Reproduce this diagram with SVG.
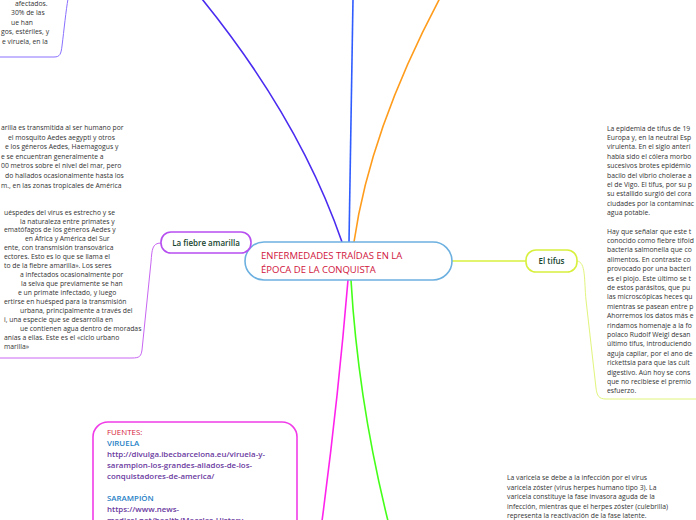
<svg xmlns="http://www.w3.org/2000/svg" width="696" height="520" viewBox="0 0 696 520">
<style>
.t{font-family:"Open Sans","Noto Sans",sans-serif;font-size:6.8px;fill:#333}
.lbl{font-family:"Open Sans","Noto Sans",sans-serif;font-size:8px;font-weight:600;fill:#17452f;text-anchor:middle}
.ttl{font-family:"Open Sans","Noto Sans",sans-serif;font-size:9.5px;fill:#d0143c}
.src{font-family:"Open Sans","Noto Sans",sans-serif;font-size:7.9px}
.c{fill:none;stroke-width:1.6}
</style>
<rect width="696" height="520" fill="#ffffff"/>
<g id="connectors">
  <path class="c" d="M342,242 Q300,120 202,-1" stroke="#4a2cf0"/>
  <path class="c" d="M349,242 Q351,120 353,-1" stroke="#2f5cff"/>
  <path class="c" d="M354,242 Q370,130 440,-2" stroke="#ff9c1c"/>
  <path class="c" d="M348,280 Q338,400 322,521" stroke="#ff22ec"/>
  <path class="c" d="M351,280 Q358,400 388,521" stroke="#44ff18"/>
  <path class="c" d="M452,261 L526,261" stroke="#d8f03c"/>
  <path fill="none" stroke="#e2f47c" stroke-width="1" d="M577,261 C586,262 584,280 586,300 L596,388 C597,396 599,399 606,399 L696,399"/>
  <path fill="none" stroke="#c866f2" stroke-width="1" d="M161,243 C152,243 152,250 151,262 L142,350 C141,356 140,358 132,358 L0,358"/>
  <path fill="none" stroke="#8a70ff" stroke-width="1" d="M0,57 L54,57 C60,57 61,54 62,46 C64,30 66,10 68,-1"/>
</g>
<g id="center">
  <rect x="245" y="242" width="207" height="38" rx="19" fill="#ffffff" stroke="#6cb0e0" stroke-width="1.6"/>
  <text class="ttl" x="261" y="258.5">ENFERMEDADES TRAÍDAS EN LA</text>
  <text class="ttl" x="261" y="272.5">ÉPOCA DE LA CONQUISTA</text>
</g>
<g id="fiebre">
  <rect x="161" y="232" width="90" height="21" rx="10" fill="#ffffff" stroke="#b64ef0" stroke-width="1.6"/>
  <text class="lbl" x="206" y="246">La fiebre amarilla</text>
</g>
<g id="tifus">
  <rect x="526" y="250" width="51" height="22" rx="10" fill="#ffffff" stroke="#d8f03c" stroke-width="1.6"/>
  <text class="lbl" x="551.5" y="264">El tifus</text>
</g>
<g id="viruela-text">
  <text class="t" x="15" y="5.5">afectados.</text>
  <text class="t" x="11" y="15">30% de las</text>
  <text class="t" x="11" y="24.5">ue han</text>
  <text class="t" x="1" y="34">gos, estériles, y</text>
  <text class="t" x="2" y="43.5">e viruela, en la</text>
</g>
<g id="fiebre-text">
  <text class="t" x="1" y="130">arilla es transmitida al ser humano por</text>
  <text class="t" x="8" y="139.6">el mosquito Aedes aegypti y otros</text>
  <text class="t" x="5" y="149.2">e los géneros Aedes, Haemagogus y</text>
  <text class="t" x="1" y="158.8">e se encuentran generalmente a</text>
  <text class="t" x="1" y="168.4">00 metros sobre el nivel del mar, pero</text>
  <text class="t" x="5" y="178">do hallados ocasionalmente hasta los</text>
  <text class="t" x="1" y="187.6">m., en las zonas tropicales de América</text>
  <text class="t" x="4" y="214.5">uéspedes del virus es estrecho y se</text>
  <text class="t" x="20" y="223.5">la naturaleza entre primates y</text>
  <text class="t" x="4" y="232.4">ematófagos de los géneros Aedes y</text>
  <text class="t" x="25" y="241.4">en África y América del Sur</text>
  <text class="t" x="4" y="250.3">ente, con transmisión transovárica</text>
  <text class="t" x="4" y="259.3">ectores. Esto es lo que se llama el</text>
  <text class="t" x="4" y="268.2">to de la fiebre amarilla». Los seres</text>
  <text class="t" x="20" y="277.2">a infectados ocasionalmente por</text>
  <text class="t" x="21" y="286.1">la selva que previamente se han</text>
  <text class="t" x="18" y="295.1">e un primate infectado, y luego</text>
  <text class="t" x="4" y="304">ertirse en huésped para la transmisión</text>
  <text class="t" x="20" y="313">urbana, principalmente a través del</text>
  <text class="t" x="4" y="321.9">i, una especie que se desarrolla en</text>
  <text class="t" x="20" y="330.9">ue contienen agua dentro de moradas</text>
  <text class="t" x="4" y="339.8">anías a ellas. Este es el «ciclo urbano</text>
  <text class="t" x="4" y="348.8">marilla»</text>
</g>
<g id="tifus-text">
  <text class="t" x="607" y="130.5">La epidemia de tifus de 19</text>
  <text class="t" x="607" y="139.9">Europa y, en la neutral Esp</text>
  <text class="t" x="607" y="149.3">virulenta. En el siglo anteri</text>
  <text class="t" x="607" y="158.7">había sido el cólera morbo</text>
  <text class="t" x="607" y="168.1">sucesivos brotes epidémio</text>
  <text class="t" x="607" y="177.5">bacilo del vibrio cholerae a</text>
  <text class="t" x="607" y="186.9">el de Vigo. El tifus, por su p</text>
  <text class="t" x="607" y="196.3">su estallido surgió del cora</text>
  <text class="t" x="607" y="205.7">ciudades por la contaminac</text>
  <text class="t" x="607" y="215.1">agua potable.</text>
  <text class="t" x="607" y="233.5">Hay que señalar que este t</text>
  <text class="t" x="607" y="242.9">conocido como fiebre tifoid</text>
  <text class="t" x="607" y="252.3">bacteria salmonella que co</text>
  <text class="t" x="607" y="261.7">alimentos. En contraste co</text>
  <text class="t" x="607" y="271.1">provocado por una bacteri</text>
  <text class="t" x="607" y="280.5">es el piojo. Este último se t</text>
  <text class="t" x="607" y="289.9">de estos parásitos, que pu</text>
  <text class="t" x="607" y="299.3">las microscópicas heces qu</text>
  <text class="t" x="607" y="308.7">mientras se pasean entre p</text>
  <text class="t" x="607" y="318.1">Ahorremos los datos más e</text>
  <text class="t" x="607" y="327.5">rindamos homenaje a la fo</text>
  <text class="t" x="607" y="336.9">polaco Rudolf Weigl desan</text>
  <text class="t" x="607" y="346.3">último tifus, introduciendo</text>
  <text class="t" x="607" y="355.7">aguja capilar, por el ano de</text>
  <text class="t" x="607" y="365.1">rickettsia para que las cult</text>
  <text class="t" x="607" y="374.5">digestivo. Aún hoy se cons</text>
  <text class="t" x="607" y="383.9">que no recibiese el premio</text>
  <text class="t" x="607" y="393.3">esfuerzo.</text>
</g>
<g id="varicela-text">
  <text class="t" x="507" y="480">La varicela se debe a la infección por el virus</text>
  <text class="t" x="507" y="489.5">varicela zóster (virus herpes humano tipo 3). La</text>
  <text class="t" x="507" y="499">varicela constituye la fase invasora aguda de la</text>
  <text class="t" x="507" y="508.5">infección, mientras que el herpes zóster (culebrilla)</text>
  <text class="t" x="507" y="518">representa la reactivación de la fase latente.</text>
</g>
<g id="fuentes">
  <rect x="93" y="422" width="204" height="130" rx="15" fill="#ffffff" stroke="#f03ce8" stroke-width="1.6"/>
  <text class="src" x="107" y="435" fill="#d61e3c">FUENTES:</text>
  <text class="src" x="107" y="446" fill="#1f7fc6" font-weight="600">VIRUELA</text>
  <text class="src" x="107" y="457" fill="#6a3aa0" font-weight="600">http://divulga.ibecbarcelona.eu/viruela-y-</text>
  <text class="src" x="107" y="468" fill="#6a3aa0" font-weight="600">sarampion-los-grandes-aliados-de-los-</text>
  <text class="src" x="107" y="479" fill="#6a3aa0" font-weight="600">conquistadores-de-america/</text>
  <text class="src" x="107" y="501" fill="#1f7fc6" font-weight="600">SARAMPIÓN</text>
  <text class="src" x="107" y="512" fill="#6a3aa0" font-weight="600">https://www.news-</text>
  <text class="src" x="107" y="523" fill="#6a3aa0" font-weight="600">medical.net/health/Measles-History</text>
</g>
</svg>
